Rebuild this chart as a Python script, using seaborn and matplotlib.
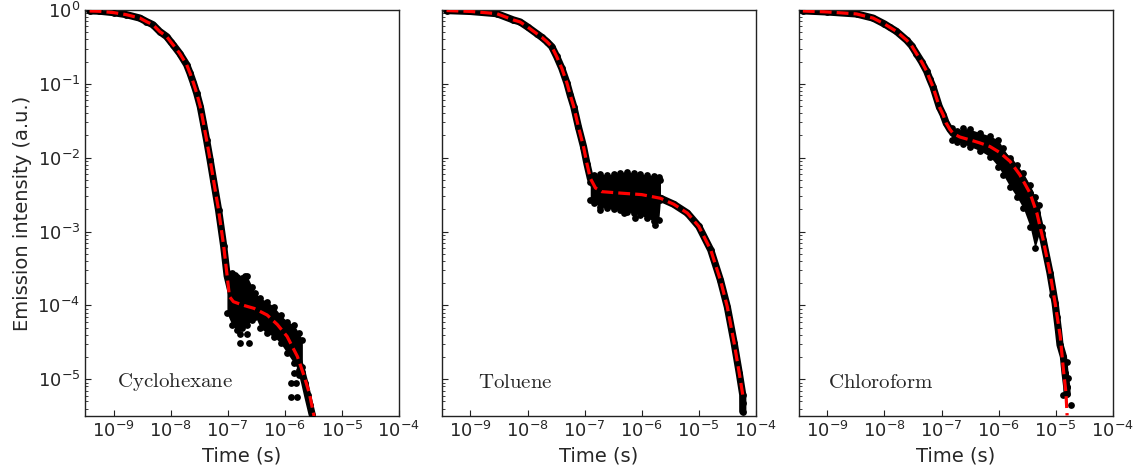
import numpy as np
import matplotlib
matplotlib.use("Agg")
import matplotlib.pyplot as plt
import seaborn as sns
from matplotlib.ticker import FixedLocator, NullLocator, NullFormatter, LogFormatterSciNotation

sns.set_style("ticks", {"xtick.direction": "in", "ytick.direction": "in"})
plt.rcParams["font.family"] = ["DejaVu Sans"]

# ---------------- values (log10 of time / intensity) ----------------
solvents = ["Cyclohexane", "Toluene", "Chloroform"]
x_ticks = [1e-9, 1e-8, 1e-7, 1e-6, 1e-5, 1e-4]
y_ticks = [1e-5, 1e-4, 1e-3, 1e-2, 1e-1, 1e0]

# Cyclohexane
cyc_fit_logt = [-9.42, -9.25, -9.0, -8.78, -8.54, -8.424, -8.31, -8.19, -8.07, -8.0, -7.954, -7.84, -7.72,
                -7.66, -7.60, -7.543, -7.48, -7.425, -7.37, -7.308, -7.25, -7.16, -7.07, -7.01, -6.97, -6.90,
                -6.72, -6.54, -6.31, -6.13, -5.96, -5.78, -5.66, -5.57, -5.49, -5.45]
cyc_fit_logI = [-0.014, -0.018, -0.036, -0.063, -0.11, -0.158, -0.20, -0.293, -0.36, -0.43, -0.474, -0.59,
                -0.74, -0.857, -0.99, -1.128, -1.31, -1.534, -1.76, -2.031, -2.30, -2.71, -3.20, -3.60, -3.88,
                -3.95, -4.00, -4.04, -4.13, -4.26, -4.42, -4.69, -4.96, -5.19, -5.49, -5.65]
cyc_trace_logt = [-9.42, -9.25, -9.0, -8.78, -8.54, -8.424, -8.31, -8.19, -8.07, -8.0, -7.954, -7.84, -7.72,
                  -7.66, -7.60, -7.543, -7.48, -7.425, -7.37, -7.308, -7.25, -7.16, -7.07, -7.01, -6.90,
                  -6.72, -6.54, -6.31, -6.13, -5.96, -5.78, -5.70, -5.65, -5.60, -5.56, -5.52]
cyc_trace_logI = [-0.012, -0.016, -0.036, -0.063, -0.11, -0.158, -0.20, -0.293, -0.36, -0.43, -0.474, -0.59,
                  -0.74, -0.857, -0.99, -1.128, -1.31, -1.534, -1.76, -2.031, -2.30, -2.71, -3.20, -3.60, -3.95,
                  -4.00, -4.04, -4.13, -4.26, -4.42, -4.69, -4.90, -5.05, -5.22, -5.35, -5.48]
cyc_band_logt = [-7.014, -6.926, -6.838, -6.750, -6.662, -6.573, -6.515, -6.427, -6.309, -6.192, -6.074,
                 -5.957, -5.839, -5.751, -5.692]
cyc_band_up = [-3.542, -3.565, -3.610, -3.633, -3.601, -3.745, -3.836, -3.903, -3.949, -4.016, -4.129,
               -4.219, -4.264, -4.377, -4.467]
cyc_band_lo = [-4.106, -4.264, -4.332, -4.310, -4.264, -4.197, -4.152, -4.310, -4.377, -4.422, -4.513,
               -4.648, -4.783, -4.874, -4.828]
cyc_out_logt = [-6.779, -6.662, -6.779, -6.632, -5.898, -5.810, -5.898, -5.792, -5.839, -5.751, -6.691, -6.867]
cyc_out_logI = [-4.386, -4.386, -4.513, -4.513, -5.054, -5.054, -5.235, -5.235, -4.919, -4.941, -3.601, -3.588]

# Toluene
tol_fit_logt = [-9.42, -9.0, -8.54, -8.25, -8.132, -8.0, -7.84, -7.751, -7.66, -7.576, -7.49, -7.40, -7.31,
                -7.253, -7.19, -7.11, -7.02, -6.96, -6.90, -6.81, -6.70, -6.37, -6.0, -5.67, -5.44, -5.20,
                -5.0, -4.79, -4.62, -4.50, -4.38, -4.29, -4.23]
tol_fit_logI = [-0.008, -0.02, -0.05, -0.135, -0.162, -0.23, -0.32, -0.370, -0.43, -0.496, -0.63, -0.79,
                -0.99, -1.151, -1.31, -1.58, -1.85, -2.08, -2.28, -2.41, -2.46, -2.48, -2.50, -2.55, -2.63,
                -2.75, -2.93, -3.25, -3.66, -4.02, -4.51, -4.92, -5.21]
tol_end_logt = [-4.229, -4.229]
tol_end_logI = [-5.325, -5.438]
tol_trace_logt = tol_fit_logt + tol_end_logt
tol_trace_logI = tol_fit_logI + tol_end_logI
tol_band_logt = [-6.902, -6.843, -6.726, -6.608, -6.491, -6.374, -6.257, -6.140, -6.022, -5.905, -5.788,
                 -5.700, -5.671]
tol_band_up = [-2.324, -2.234, -2.220, -2.234, -2.220, -2.202, -2.189, -2.211, -2.220, -2.234, -2.243,
               -2.256, -2.301]
tol_band_lo = [-2.572, -2.617, -2.662, -2.685, -2.699, -2.708, -2.730, -2.753, -2.775, -2.820, -2.852,
               -2.843, -2.572]
tol_out_logt = [-6.726, -6.315, -6.110, -5.759]
tol_out_logI = [-2.708, -2.753, -2.820, -2.911]

# Chloroform
chl_fit_logt = [-9.43, -9.0, -8.49, -8.2, -8.0, -7.906, -7.79, -7.61, -7.526, -7.44, -7.351, -7.26, -7.205,
                -7.15, -7.04, -6.971, -6.92, -6.854, -6.80, -6.68, -6.50, -6.33, -6.15, -5.98, -5.80, -5.63,
                -5.45, -5.33, -5.22, -5.10, -5.01, -4.92, -4.87, -4.82, -4.80]
chl_fit_logI = [-0.014, -0.027, -0.054, -0.11, -0.19, -0.235, -0.29, -0.41, -0.483, -0.59, -0.70, -0.83,
                -0.939, -1.04, -1.31, -1.421, -1.53, -1.616, -1.67, -1.72, -1.76, -1.80, -1.85, -1.93, -2.05,
                -2.23, -2.48, -2.75, -3.11, -3.56, -3.97, -4.42, -4.83, -5.19, -5.49]
chl_trace_logt = [-9.43, -9.0, -8.49, -8.2, -8.0, -7.906, -7.79, -7.61, -7.526, -7.44, -7.351, -7.26, -7.205,
                  -7.15, -7.04, -6.971, -6.92, -6.854, -6.80, -6.68, -6.50, -6.33, -6.15, -5.98, -5.80, -5.63,
                  -5.45, -5.33, -5.22, -5.10, -5.01, -4.953, -4.924, -4.865, -4.836, -4.807, -4.80]
chl_trace_logI = [-0.012, -0.027, -0.054, -0.11, -0.19, -0.235, -0.29, -0.41, -0.483, -0.59, -0.70, -0.83,
                  -0.939, -1.04, -1.31, -1.421, -1.53, -1.616, -1.67, -1.72, -1.76, -1.80, -1.85, -1.93, -2.05,
                  -2.23, -2.48, -2.75, -3.11, -3.56, -3.97, -4.332, -4.535, -4.693, -4.919, -5.099, -5.20]
chl_band_logt = [-6.825, -6.737, -6.620, -6.503, -6.327, -6.152, -6.006, -5.918, -5.801, -5.684, -5.567,
                 -5.450, -5.363, -5.287, -5.246]
chl_band_up = [-1.602, -1.638, -1.602, -1.616, -1.661, -1.706, -1.760, -1.873, -2.008, -2.098, -2.211,
               -2.369, -2.527, -2.640, -2.933]
chl_band_lo = [-1.760, -1.782, -1.814, -1.850, -1.904, -1.986, -2.121, -2.234, -2.392, -2.527, -2.685,
               -2.933, -3.227, -3.023, -3.023]
chl_out_logt = [-5.070, -4.982, -4.953, -4.924, -4.865, -4.807, -4.836, -4.778, -4.807, -4.865, -4.731]
chl_out_logI = [-3.858, -4.152, -4.332, -4.535, -4.693, -4.761, -4.919, -4.986, -5.099, -5.212, -5.347]

panels = [
    (cyc_fit_logt, cyc_fit_logI, cyc_trace_logt, cyc_trace_logI, cyc_band_logt, cyc_band_up, cyc_band_lo,
     cyc_out_logt, cyc_out_logI),
    (tol_fit_logt, tol_fit_logI, tol_trace_logt, tol_trace_logI, tol_band_logt, tol_band_up, tol_band_lo,
     tol_out_logt, tol_out_logI),
    (chl_fit_logt, chl_fit_logI, chl_trace_logt, chl_trace_logI, chl_band_logt, chl_band_up, chl_band_lo,
     chl_out_logt, chl_out_logI),
]
label_x = [0.102, 0.116, 0.093]


def p10(a):
    return 10.0 ** np.asarray(a, dtype=float)


fig, axes = plt.subplots(1, 3, figsize=(11.46, 4.74), dpi=100, sharey=True)
fig.subplots_adjust(left=0.0742, right=0.971, bottom=0.122, top=0.979, wspace=0.137)

for ax, name, lx, (ft, fI, tt, tI, bt, bu, bl, ot, oI) in zip(axes, solvents, label_x, panels):
    ax.set_xscale("log")
    ax.set_yscale("log")
    ax.fill_between(p10(bt), p10(bl), p10(bu), color="black", lw=0, zorder=2)
    sns.lineplot(x=p10(tt), y=p10(tI), ax=ax, color="black", lw=5.2, sort=False, estimator=None, zorder=2)
    dots_t = np.concatenate([p10(tt), p10(bt), p10(bt), p10(ot)])
    dots_I = np.concatenate([p10(tI), p10(bu), p10(bl), p10(oI)])
    sns.scatterplot(x=dots_t, y=dots_I, ax=ax, color="black", s=24, linewidth=0, zorder=3)
    sns.lineplot(x=p10(ft), y=p10(fI), ax=ax, color="#ff0000", lw=2.3, linestyle="--", sort=False,
                 estimator=None, zorder=4)
    ax.set_xlim(10 ** -9.5, 1e-4)
    ax.set_ylim(10 ** -5.5, 1.0)
    ax.xaxis.set_major_locator(FixedLocator(x_ticks))
    ax.xaxis.set_major_formatter(LogFormatterSciNotation())
    ax.xaxis.set_minor_locator(NullLocator())
    ax.yaxis.set_major_locator(FixedLocator(y_ticks))
    ax.yaxis.set_major_formatter(LogFormatterSciNotation())
    minor_y = [m * d for d in [1e-6, 1e-5, 1e-4, 1e-3, 1e-2, 1e-1] for m in range(2, 10)
               if 10 ** -5.5 <= m * d <= 1.0]
    ax.yaxis.set_minor_locator(FixedLocator(minor_y))
    ax.yaxis.set_minor_formatter(NullFormatter())
    ax.tick_params(which="major", direction="in", length=4, width=0.8, labelsize=13,
                   top=False, right=False, color="#222222")
    ax.tick_params(which="minor", direction="in", length=2.2, width=0.6, top=False, right=False,
                   color="#222222")
    for sp in ax.spines.values():
        sp.set_visible(True)
        sp.set_linewidth(1.0)
        sp.set_color("#222222")
    ax.set_xlabel("Time (s)", fontsize=14)
    ax.set_ylabel("")
    ax.text(lx, 0.084, r"$\mathrm{" + name + "}$", transform=ax.transAxes, ha="left", va="center",
            fontsize=15, math_fontfamily="cm", zorder=5)

for ax in axes[1:]:
    ax.tick_params(labelleft=False)

axes[0].set_ylabel("Emission intensity (a.u.)", fontsize=14)

fig.savefig("out.png", dpi=100)
